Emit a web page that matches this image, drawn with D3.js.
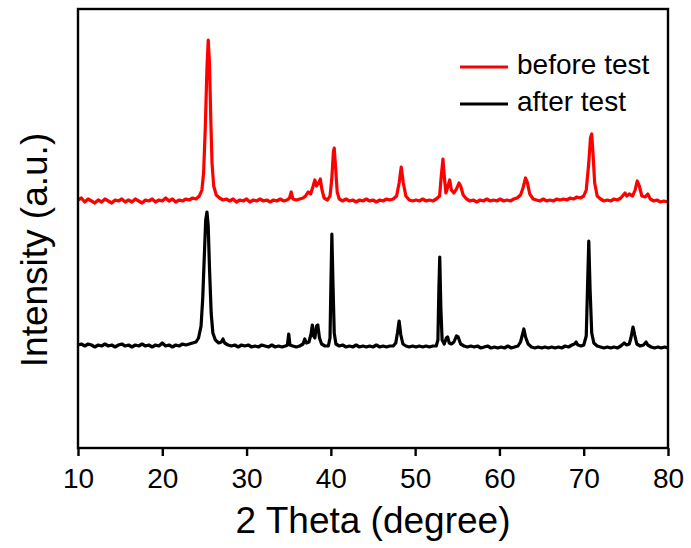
<!DOCTYPE html>
<html>
<head>
<meta charset="utf-8">
<script src="https://cdn.jsdelivr.net/npm/d3@7/dist/d3.min.js"></script>
<style>
  html, body { margin: 0; padding: 0; background: #fff; }
  svg { display: block; font-family: "Liberation Sans", Arial, sans-serif; }
</style>
</head>
<body>
<svg id="chart" width="691" height="548"></svg>
<script>
// ---- data ----
const xTicks = [10, 20, 30, 40, 50, 60, 70, 80];
const seriesNames = ["before test", "after test"];
const seriesColors = ["#ff0000", "#000000"];

const beforeTest = [
[10.0,248],[10.4,250],[10.8,246],[11.2,249],[11.6,247],[12.0,245],[12.4,248],[12.8,246],[13.2,249],[13.6,247],
[14.0,245],[14.4,248],[14.8,247],[15.2,249],[15.6,246],[16.0,248],[16.4,246],[16.8,249],[17.2,247],[17.6,245],
[18.0,248],[18.4,247],[18.8,249],[19.2,246],[19.6,248],[20.0,247],[20.4,250],[20.8,247],[21.2,249],[21.6,246],
[22.0,248],[22.4,247],[22.8,249],[23.2,248],[23.6,250],[24.0,249],[24.4,252],[24.7,258],[24.9,275],[25.1,320],
[25.3,380],[25.45,408],[25.6,385],[25.75,330],[25.9,285],[26.1,262],[26.4,253],[26.8,250],[27.2,248],[27.6,249],
[28.0,247],[28.4,249],[28.8,246],[29.2,248],[29.6,247],[30.0,249],[30.4,246],[30.8,248],[31.2,247],[31.6,249],
[32.0,247],[32.4,248],[32.8,246],[33.2,248],[33.6,247],[34.0,249],[34.4,247],[34.8,248],[35.1,250],[35.3,256],
[35.5,249],[35.9,248],[36.3,249],[36.7,250],[37.0,252],[37.3,256],[37.6,254],[37.9,262],[38.1,268],[38.3,262],
[38.6,266],[38.75,269],[38.95,258],[39.2,250],[39.6,248],[39.9,252],[40.1,268],[40.3,296],[40.4,300],[40.55,282],
[40.75,256],[41.0,249],[41.4,247],[41.8,249],[42.2,247],[42.6,248],[43.0,246],[43.4,248],[43.8,247],[44.2,249],
[44.6,247],[45.0,248],[45.4,246],[45.8,248],[46.2,247],[46.6,249],[47.0,248],[47.4,249],[47.8,252],[48.1,265],
[48.35,281],[48.6,265],[48.9,252],[49.3,248],[49.7,247],[50.1,248],[50.5,247],[50.9,249],[51.3,247],[51.7,248],
[52.1,247],[52.5,249],[52.9,252],[53.1,272],[53.3,289],[53.45,272],[53.65,255],[53.9,262],[54.1,268],[54.3,258],
[54.6,255],[54.9,259],[55.2,265],[55.4,262],[55.7,253],[56.1,249],[56.5,247],[56.9,248],[57.3,246],[57.7,248],
[58.1,247],[58.5,249],[58.9,247],[59.3,248],[59.7,247],[60.1,249],[60.5,247],[60.9,248],[61.3,247],[61.7,249],
[62.1,250],[62.5,253],[62.8,260],[63.1,270],[63.3,266],[63.6,254],[64.0,249],[64.4,248],[64.8,247],[65.2,249],
[65.6,247],[66.0,248],[66.4,247],[66.8,249],[67.2,248],[67.6,249],[68.0,248],[68.4,250],[68.8,249],[69.2,251],
[69.6,250],[70.0,252],[70.3,258],[70.6,285],[70.8,310],[70.95,314],[71.1,295],[71.3,265],[71.6,252],[72.0,249],
[72.4,247],[72.8,248],[73.2,247],[73.6,249],[74.0,248],[74.4,250],[74.7,253],[74.9,255],[75.1,252],[75.4,254],
[75.8,252],[76.1,258],[76.35,267],[76.6,262],[76.9,252],[77.3,251],[77.6,254],[77.9,249],[78.3,247],[78.7,248],
[79.1,246],[79.5,247],[80.0,246]
];

const afterTest = [
[10.0,103],[10.4,104],[10.8,102],[11.2,104],[11.6,103],[12.0,101],[12.4,103],[12.8,102],[13.2,104],[13.6,102],
[14.0,103],[14.4,101],[14.8,103],[15.2,104],[15.6,102],[16.0,103],[16.4,101],[16.8,103],[17.2,102],[17.6,104],
[18.0,102],[18.4,103],[18.8,101],[19.2,103],[19.6,102],[20.0,105],[20.4,102],[20.8,103],[21.2,101],[21.6,103],
[22.0,102],[22.4,104],[22.8,103],[23.2,104],[23.6,105],[24.0,106],[24.3,110],[24.6,122],[24.8,150],[25.0,195],
[25.15,228],[25.3,236],[25.45,222],[25.6,180],[25.8,135],[26.0,115],[26.3,108],[26.7,105],[27.0,106],[27.2,109],
[27.4,105],[27.8,103],[28.2,102],[28.6,103],[29.0,101],[29.4,103],[29.8,102],[30.2,103],[30.6,101],[31.0,102],
[31.4,101],[31.8,103],[32.2,102],[32.6,101],[33.0,103],[33.4,101],[33.8,102],[34.2,101],[34.6,102],[34.85,103],
[35.0,114],[35.15,103],[35.5,102],[35.9,101],[36.3,102],[36.7,104],[36.9,109],[37.1,105],[37.4,106],[37.65,114],
[37.8,123],[37.95,112],[38.1,110],[38.3,122],[38.45,123],[38.65,110],[38.9,104],[39.3,102],[39.7,102],[39.9,110],
[40.0,160],[40.12,214],[40.25,165],[40.4,115],[40.6,104],[41.0,102],[41.4,103],[41.8,101],[42.2,102],[42.6,101],
[43.0,103],[43.4,101],[43.8,102],[44.2,101],[44.6,102],[45.0,101],[45.4,103],[45.8,101],[46.2,102],[46.6,101],
[47.0,102],[47.4,102],[47.7,105],[47.9,115],[48.1,127],[48.3,113],[48.55,104],[48.9,102],[49.3,101],[49.7,102],
[50.1,101],[50.5,102],[50.9,101],[51.3,102],[51.7,101],[52.1,102],[52.5,102],[52.7,108],[52.82,160],[52.92,191],
[53.05,140],[53.2,108],[53.45,104],[53.7,110],[53.85,111],[54.05,105],[54.3,104],[54.6,106],[54.9,112],[55.1,111],
[55.4,104],[55.8,102],[56.2,101],[56.6,102],[57.0,101],[57.4,102],[57.8,100],[58.2,101],[58.6,102],[59.0,100],
[59.4,101],[59.8,100],[60.2,101],[60.6,100],[61.0,102],[61.4,100],[61.8,101],[62.2,102],[62.5,106],[62.75,114],
[62.9,119],[63.1,111],[63.4,104],[63.8,101],[64.2,100],[64.6,101],[65.0,100],[65.4,101],[65.8,100],[66.2,101],
[66.6,100],[67.0,101],[67.4,100],[67.8,102],[68.2,101],[68.6,103],[68.9,104],[69.1,106],[69.3,103],[69.7,102],
[70.0,103],[70.3,112],[70.45,160],[70.6,207],[70.75,160],[70.95,115],[71.2,105],[71.6,102],[72.0,101],[72.4,100],
[72.8,101],[73.2,100],[73.6,101],[74.0,100],[74.4,102],[74.8,105],[75.1,103],[75.4,104],[75.6,110],[75.85,121],
[76.05,113],[76.3,104],[76.7,102],[77.1,103],[77.4,106],[77.6,103],[78.0,101],[78.4,100],[78.8,101],[79.2,100],
[79.6,101],[80.0,100]
];

const xDomain = [10, 80];
const yDomain = [0, 439];

// ---- layout ----
const margin = { left: 78, right: 23, top: 9, bottom: 100 };
const W = 691, H = 548;
const svg = d3.select("#chart");
const x = d3.scaleLinear().domain(xDomain).range([margin.left, W - margin.right]);
const y = d3.scaleLinear().domain(yDomain).range([H - margin.bottom, margin.top]);

// series
const line = d3.line().x(d => x(d[0])).y(d => y(d[1]));
const seriesData = [beforeTest, afterTest];
svg.append("g").selectAll("path").data(seriesData).join("path")
  .attr("d", line)
  .attr("fill", "none")
  .attr("stroke", (d, i) => seriesColors[i])
  .attr("stroke-width", 3.2)
  .attr("stroke-linejoin", "round");

// frame
svg.append("rect")
  .attr("x", x(xDomain[0])).attr("y", y(yDomain[1]))
  .attr("width", x(xDomain[1]) - x(xDomain[0]))
  .attr("height", y(yDomain[0]) - y(yDomain[1]))
  .attr("fill", "none").attr("stroke", "#000").attr("stroke-width", 2.4);

// x axis
const xAxis = d3.axisBottom(x).tickValues(xTicks).tickSize(8).tickPadding(3).tickFormat(d3.format("d"));
const gx = svg.append("g").attr("transform", `translate(0,${y(yDomain[0])})`).call(xAxis);
gx.select(".domain").remove();
gx.selectAll(".tick line").attr("stroke", "#000").attr("stroke-width", 2.4);
gx.selectAll(".tick text").attr("fill", "#000")
  .style("font-size", "28px").style("font-family", "'Liberation Sans', Arial, sans-serif")
  .attr("dy", null).attr("y", 40);

// axis titles
svg.append("text")
  .attr("x", (x(xDomain[0]) + x(xDomain[1])) / 2).attr("y", 533)
  .attr("text-anchor", "middle").style("font-size", "37px").attr("fill", "#000")
  .text("2 Theta (degree)");
svg.append("text")
  .attr("transform", `translate(47,${250}) rotate(-90)`)
  .attr("text-anchor", "middle").style("font-size", "37px").attr("fill", "#000")
  .text("Intensity (a.u.)");

// legend
const legend = svg.append("g");
const legY = [67, 104];
seriesNames.forEach((name, i) => {
  legend.append("line")
    .attr("x1", 460).attr("x2", 508).attr("y1", legY[i]).attr("y2", legY[i])
    .attr("stroke", seriesColors[i]).attr("stroke-width", 3.2);
  legend.append("text")
    .attr("x", 517).attr("y", legY[i] + 7)
    .style("font-size", "28px").attr("fill", "#000")
    .text(name);
});
</script>
</body>
</html>
